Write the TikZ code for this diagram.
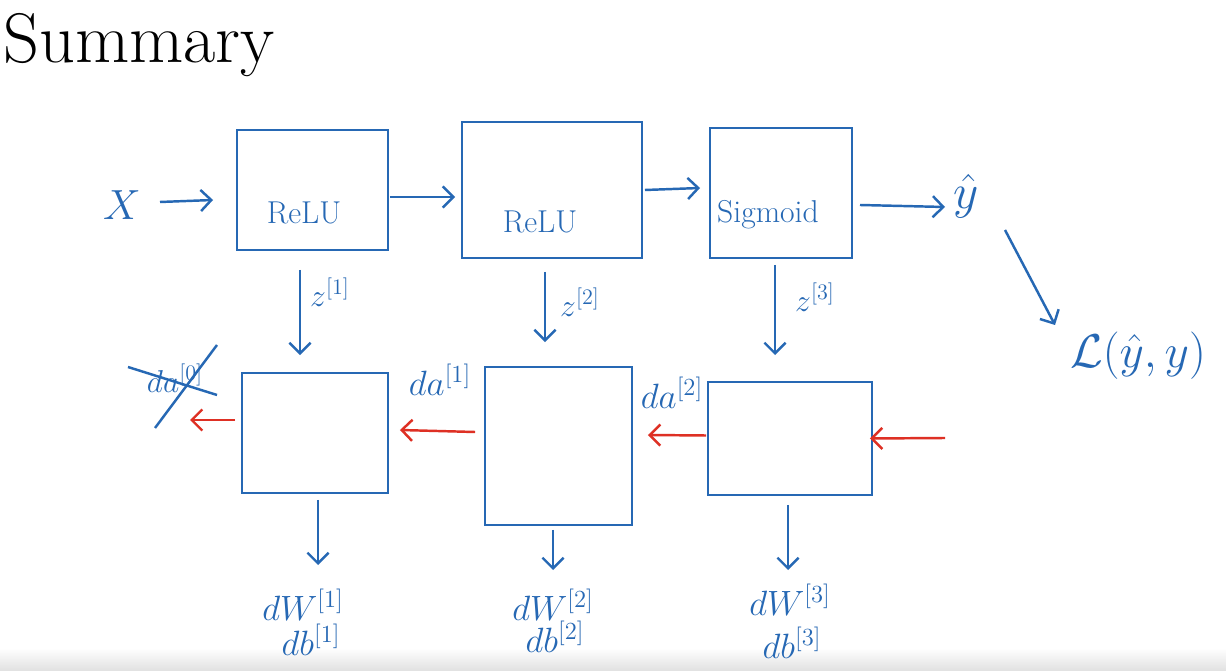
\RequirePackage{fix-cm}
\documentclass[tikz,border=0pt]{standalone}
\usepackage{amsmath}
\usepackage{fontspec}
\usetikzlibrary{arrows.meta,calc}
\definecolor{pen}{RGB}{38,104,180}
\definecolor{redpen}{RGB}{222,48,36}
\begin{document}
\begin{tikzpicture}[x=0.02cm,y=-0.02cm,
  box/.style={draw=pen,line width=1.4pt,inner sep=0pt,outer sep=0pt,rectangle},
  lbl/.style={text=pen,inner sep=0pt,font=\fontsize{20}{24}\selectfont},
  zlbl/.style={text=pen,inner sep=0pt,font=\fontsize{18}{22}\selectfont},
  boxlbl/.style={text=pen,inner sep=0pt,font=\fontsize{18}{21}\selectfont},
  arr/.style={draw=pen,line width=1.4pt,-{Straight Barb[length=6pt,width=12pt]}},
  rarr/.style={arr,draw=redpen},
]
\useasboundingbox (0,0) rectangle (1226,671);
\fill[white] (0,0) rectangle (1226,671);
\shade[top color=white,bottom color=black!12] (0,648) rectangle (1226,671);
\node[anchor=base west,inner sep=0pt,font=\fontsize{40}{44}\selectfont] (title) at (3,63) {Summary};

% forward boxes
\node[box,minimum width=3.02cm,minimum height=2.4cm] (f1) at (312.5,190) {};
\node[box,minimum width=3.6cm,minimum height=2.72cm] (f2) at (552,190) {};
\node[box,minimum width=2.84cm,minimum height=2.6cm] (f3) at (781,193) {};
\node[boxlbl] (t1) at (304,213) {ReLU};
\node[boxlbl] (t2) at (540,222) {ReLU};
\node[boxlbl] (t3) at (768,215) {Sigmoid};

% backward boxes
\node[box,minimum width=2.92cm,minimum height=2.4cm] (f4) at (315,433) {};
\node[box,minimum width=2.94cm,minimum height=3.16cm] (f5) at (558.5,446) {};
\node[box,minimum width=3.28cm,minimum height=2.26cm] (f6) at (790,438.5) {};

% labels
\node[lbl,font=\fontsize{24}{28}\selectfont] (X) at (122,205) {$X$};
\node[lbl,font=\fontsize{28}{32}\selectfont] (yhat) at (966,196) {$\hat{y}$};
\node[lbl,font=\fontsize{27}{31}\selectfont] (loss) at (1138,356) {$\mathcal{L}(\hat{y},y)$};
\node[zlbl] (z1) at (330,292) {$z^{[1]}$};
\node[zlbl] (z2) at (580,302) {$z^{[2]}$};
\node[zlbl] (z3) at (815,297) {$z^{[3]}$};
\node[lbl] (da1) at (440,380) {$da^{[1]}$};
\node[lbl] (da2) at (672,393) {$da^{[2]}$};
\node[zlbl] (da0) at (175,378) {$da^{[0]}$};
\node[lbl] (dw1) at (303,605) {$dW^{[1]}$};
\node[lbl] (db1) at (311,640) {$db^{[1]}$};
\node[lbl] (dw2) at (553,605) {$dW^{[2]}$};
\node[lbl] (db2) at (555,637) {$db^{[2]}$};
\node[lbl] (dw3) at (790,600) {$dW^{[3]}$};
\node[lbl] (db3) at (792,643) {$db^{[3]}$};

% cross-out of da[0]
\draw[pen,line width=1.4pt] ($(da0)+(-47,-11)$) -- ($(da0)+(42,17)$);
\draw[pen,line width=1.4pt] ($(da0)+(-20,50)$) -- ($(da0)+(42,-33)$);

% forward arrows
\draw[arr] ([shift={(38,-3)}]X.center) -- ([shift={(-24,10)}]f1.west);
\draw[arr] ([shift={(2,7)}]f1.east) -- ([shift={(-7,7)}]f2.west);
\draw[arr] ([shift={(3,0)}]f2.east) -- ([shift={(-10,-5)}]f3.west);
\draw[arr] ([shift={(8,12)}]f3.east) -- ([shift={(-21,11)}]yhat.center);
\draw[arr] ([shift={(39,34)}]yhat.center) -- ([shift={(-83,-31)}]loss.center);

% cache arrows
\draw[arr] ([shift={(-12.5,20)}]f1.south) -- ([shift={(-15,-18)}]f4.north);
\draw[arr] ([shift={(-7,14)}]f2.south) -- ([shift={(-13.5,-25)}]f5.north);
\draw[arr] ([shift={(-6,7)}]f3.south) -- ([shift={(-15,-27)}]f6.north);

% gradient outputs
\draw[arr] ([shift={(3,7)}]f4.south) -- ([shift={(15,-40)}]dw1.center);
\draw[arr] ([shift={(-5.5,5)}]f5.south) -- ([shift={(0,-35)}]dw2.center);
\draw[arr] ([shift={(-2,10)}]f6.south) -- ([shift={(-2,-30)}]dw3.center);

% backward (red) arrows
\coordinate (grad) at (945,438);
\draw[rarr] (grad) -- ([shift={(-2,0)}]f6.east);
\draw[rarr] ([shift={(-2,-3)}]f6.west) -- ([shift={(16,-11)}]f5.east);
\draw[rarr] ([shift={(-10,-14)}]f5.west) -- ([shift={(12,-3)}]f4.east);
\draw[rarr] ([shift={(-7,-13)}]f4.west) -- ([shift={(15,42)}]da0.center);
\end{tikzpicture}
\end{document}
